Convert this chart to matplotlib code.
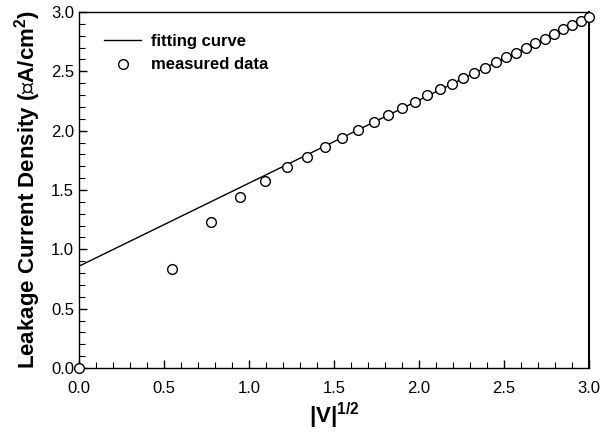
import matplotlib
matplotlib.use('Agg')
import matplotlib.pyplot as plt
from matplotlib.ticker import MultipleLocator

plt.rcParams['font.family'] = ['Liberation Sans', 'DejaVu Sans']
plt.rcParams['mathtext.fontset'] = 'custom'
plt.rcParams['mathtext.rm'] = 'Liberation Sans'
plt.rcParams['mathtext.bf'] = 'Liberation Sans:bold'

# measured data: sqrt(|V|) vs leakage current density
x_meas = [0.0, 0.548, 0.775, 0.949, 1.095, 1.225, 1.342, 1.449, 1.549, 1.643,
          1.732, 1.817, 1.897, 1.975, 2.049, 2.121, 2.191, 2.258, 2.324, 2.387,
          2.449, 2.510, 2.569, 2.627, 2.683, 2.739, 2.793, 2.846, 2.898, 2.949, 3.0]
y_meas = [0.0, 0.834, 1.232, 1.443, 1.573, 1.690, 1.780, 1.865, 1.935, 2.005,
          2.070, 2.130, 2.188, 2.245, 2.297, 2.347, 2.396, 2.440, 2.487, 2.531,
          2.575, 2.617, 2.658, 2.698, 2.737, 2.776, 2.815, 2.853, 2.890, 2.922, 2.954]

# linear fitting curve
x_fit = [0.0, 3.0]
y_fit = [0.858, 2.958]

fig = plt.figure(figsize=(6.01, 4.42), dpi=100)
ax = fig.add_axes([0.1314, 0.1674, 0.849, 0.8055])

ax.plot(x_fit, y_fit, color='black', lw=1.0, label='fitting curve')
ax.plot(x_meas, y_meas, linestyle='none', marker='o', ms=7, mfc='white',
        mec='black', mew=1.0, label='measured data', clip_on=False, zorder=3)

ax.set_xlim(0, 3)
ax.set_ylim(0, 3)
ax.xaxis.set_major_locator(MultipleLocator(0.5))
ax.xaxis.set_minor_locator(MultipleLocator(0.1))
ax.yaxis.set_major_locator(MultipleLocator(0.5))
ax.yaxis.set_minor_locator(MultipleLocator(0.1))
ax.tick_params(which='both', direction='in', top=False, right=False, labelsize=12)
ax.tick_params(which='major', length=6, width=1)
ax.tick_params(which='minor', length=4, width=0.8)
ax.tick_params(axis='x', which='major', pad=9)
ax.tick_params(axis='y', which='major', pad=3.5)
for s in ax.spines.values():
    s.set_linewidth(1.0)
ax.spines['right'].set_linewidth(1.5)

ax.set_xlabel(r'|V|$\mathbf{^{1/2}}$', fontsize=16, fontweight='bold', labelpad=4)
ax.set_ylabel(r'Leakage Current Density (∝A/cm$\mathbf{^2}$)', fontsize=16,
              fontweight='bold', labelpad=6)

leg = ax.legend(loc='upper left', frameon=False, prop={'weight': 'bold', 'size': 12},
                handlelength=2.2, handletextpad=0.6, bbox_to_anchor=(0.02, 0.98),
                labelspacing=0.5)

fig.savefig('out.png', dpi=100)
